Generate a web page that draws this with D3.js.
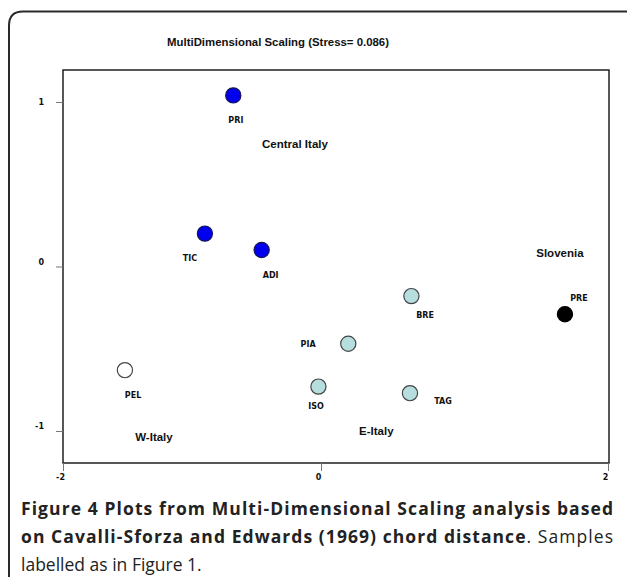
<!DOCTYPE html>
<html><head><meta charset="utf-8">
<script src="https://cdn.jsdelivr.net/npm/d3@7/dist/d3.min.js"></script>
<style>
html,body{margin:0;padding:0;background:#fff;}
svg{display:block;}
</style></head>
<body>
<script>
// ---- data ----
const samples = ["PRI","TIC","ADI","PEL","ISO","PIA","BRE","TAG","PRE"];
const dim1    = [-0.68,-0.90,-0.46,-1.52,-0.02, 0.19, 0.63, 0.62, 1.70];
const dim2    = [ 1.04, 0.20, 0.10,-0.63,-0.73,-0.47,-0.18,-0.77,-0.29];
const group   = ["central","central","central","west","east","east","east","east","slovenia"];
// label anchor positions (data units)
const labelX  = [-0.66,-1.016,-0.39,-1.457,-0.039,-0.10, 0.725, 0.85, 1.798];
const labelY  = [ 0.872, 0.033,-0.07,-0.799,-0.866,-0.489,-0.313,-0.836,-0.21];
const regionNames = ["Central Italy","Slovenia","W-Italy","E-Italy"];
const regionX = [-0.457, 1.50,-1.44, 0.265];
const regionY = [ 0.72, 0.058,-1.06,-1.024];
const xTicks = [-2,0,2];
const yTicks = [-1,0,1];
const title = "MultiDimensional Scaling (Stress= 0.086)";

const W = 627, H = 577;
const svg = d3.select("body").append("svg").attr("width",W).attr("height",H);

// outer rounded frame
const r = 14;
svg.append("path")
  .attr("d",`M9,${H+10} L9,${11.5+r} Q9,11.5 ${9+r},11.5 L${W+10},11.5`)
  .attr("fill","none").attr("stroke","#2a2a2a").attr("stroke-width",2);

const x = d3.scaleLinear().domain([-2,0,2]).range([63,321,608]);
const y = d3.scaleLinear().domain([-1,1]).range([431,102]);
const plotTop = 70, plotBottom = 463, plotLeft = x(-2), plotRight = 609;

// title
svg.append("text").attr("x",278).attr("y",45.5).attr("text-anchor","middle")
  .attr("font-family","Liberation Sans, Arial, sans-serif").attr("font-weight","bold")
  .attr("font-size",11.4).attr("fill","#111").text(title);

// plot frame
svg.append("rect").attr("x",plotLeft).attr("y",plotTop)
  .attr("width",plotRight-plotLeft).attr("height",plotBottom-plotTop)
  .attr("fill","none").attr("stroke","#111").attr("stroke-width",1.4);

// axes
const xAxis = d3.axisBottom(x).tickValues(xTicks).tickSize(8).tickPadding(3).tickFormat(d=>String(d));
const gx = svg.append("g").attr("transform",`translate(0,${plotBottom})`).call(xAxis);
gx.select(".domain").remove();
gx.selectAll(".tick line").attr("stroke","#777");
gx.selectAll(".tick text").attr("dx",-3).attr("font-family","DejaVu Sans, Verdana, sans-serif")
  .attr("font-weight","bold").attr("font-size",8).attr("fill","#111");

const yAxis = d3.axisLeft(y).tickValues(yTicks).tickSize(7).tickPadding(12).tickFormat(d=>String(d));
const gy = svg.append("g").attr("transform",`translate(${plotLeft},0)`).call(yAxis);
gy.select(".domain").remove();
gy.selectAll(".tick line").attr("stroke","#777");
gy.selectAll(".tick text").attr("dy",d=>d===1?"0.32em":"-0.3em").attr("font-family","DejaVu Sans, Verdana, sans-serif")
  .attr("font-weight","bold").attr("font-size",8).attr("fill","#111");

// points
const fills = {central:"#0000ee", west:"#ffffff", east:"#b6dede", slovenia:"#000000"};
const strokes = {central:"#15155a", west:"#444", east:"#444", slovenia:"#000"};
const pts = samples.map((s,i)=>({s, x:dim1[i], y:dim2[i], g:group[i], lx:labelX[i], ly:labelY[i]}));
svg.append("g").selectAll("circle").data(pts).join("circle")
  .attr("cx",d=>x(d.x)).attr("cy",d=>y(d.y)).attr("r",7.6)
  .attr("fill",d=>fills[d.g]).attr("stroke",d=>strokes[d.g]).attr("stroke-width",1.2);

svg.append("g").selectAll("text").data(pts).join("text")
  .attr("x",d=>x(d.lx)).attr("y",d=>y(d.ly)).attr("text-anchor","middle")
  .attr("font-family","DejaVu Sans, Verdana, sans-serif").attr("font-weight","bold")
  .attr("font-size",8).attr("fill","#111").text(d=>d.s);

// region labels
svg.append("g").selectAll("text").data(regionNames).join("text")
  .attr("x",(d,i)=>x(regionX[i])).attr("y",(d,i)=>y(regionY[i]))
  .attr("font-family","Liberation Sans, Arial, sans-serif").attr("font-weight","bold")
  .attr("font-size",11.5).attr("fill","#111").text(d=>d);

// caption
const capLines = [
  [{t:"Figure 4 Plots from Multi-Dimensional Scaling analysis based", b:true}],
  [{t:"on Cavalli-Sforza and Edwards (1969) chord distance", b:true},{t:". Samples", b:false}],
  [{t:"labelled as in Figure 1.", b:false}]
];
const capX0 = 21, capX1 = 613, capY0 = 515, capLH = 28;
capLines.forEach((line,li)=>{
  const t = svg.append("text").attr("x",capX0).attr("y",capY0+li*capLH)
    .attr("font-family","Open Sans, sans-serif").attr("font-size",17.5).attr("fill","#222");
  line.forEach(seg=>{
    t.append("tspan").attr("font-weight",seg.b?"bold":"normal").text(seg.t);
  });
  if(li<2){
    const w = t.node().getComputedTextLength();
    const txt = line.map(s=>s.t).join("");
    const n = txt.length - 1;
    t.attr("letter-spacing",(capX1-capX0-w)/n);
  }
});
</script>
</body></html>
